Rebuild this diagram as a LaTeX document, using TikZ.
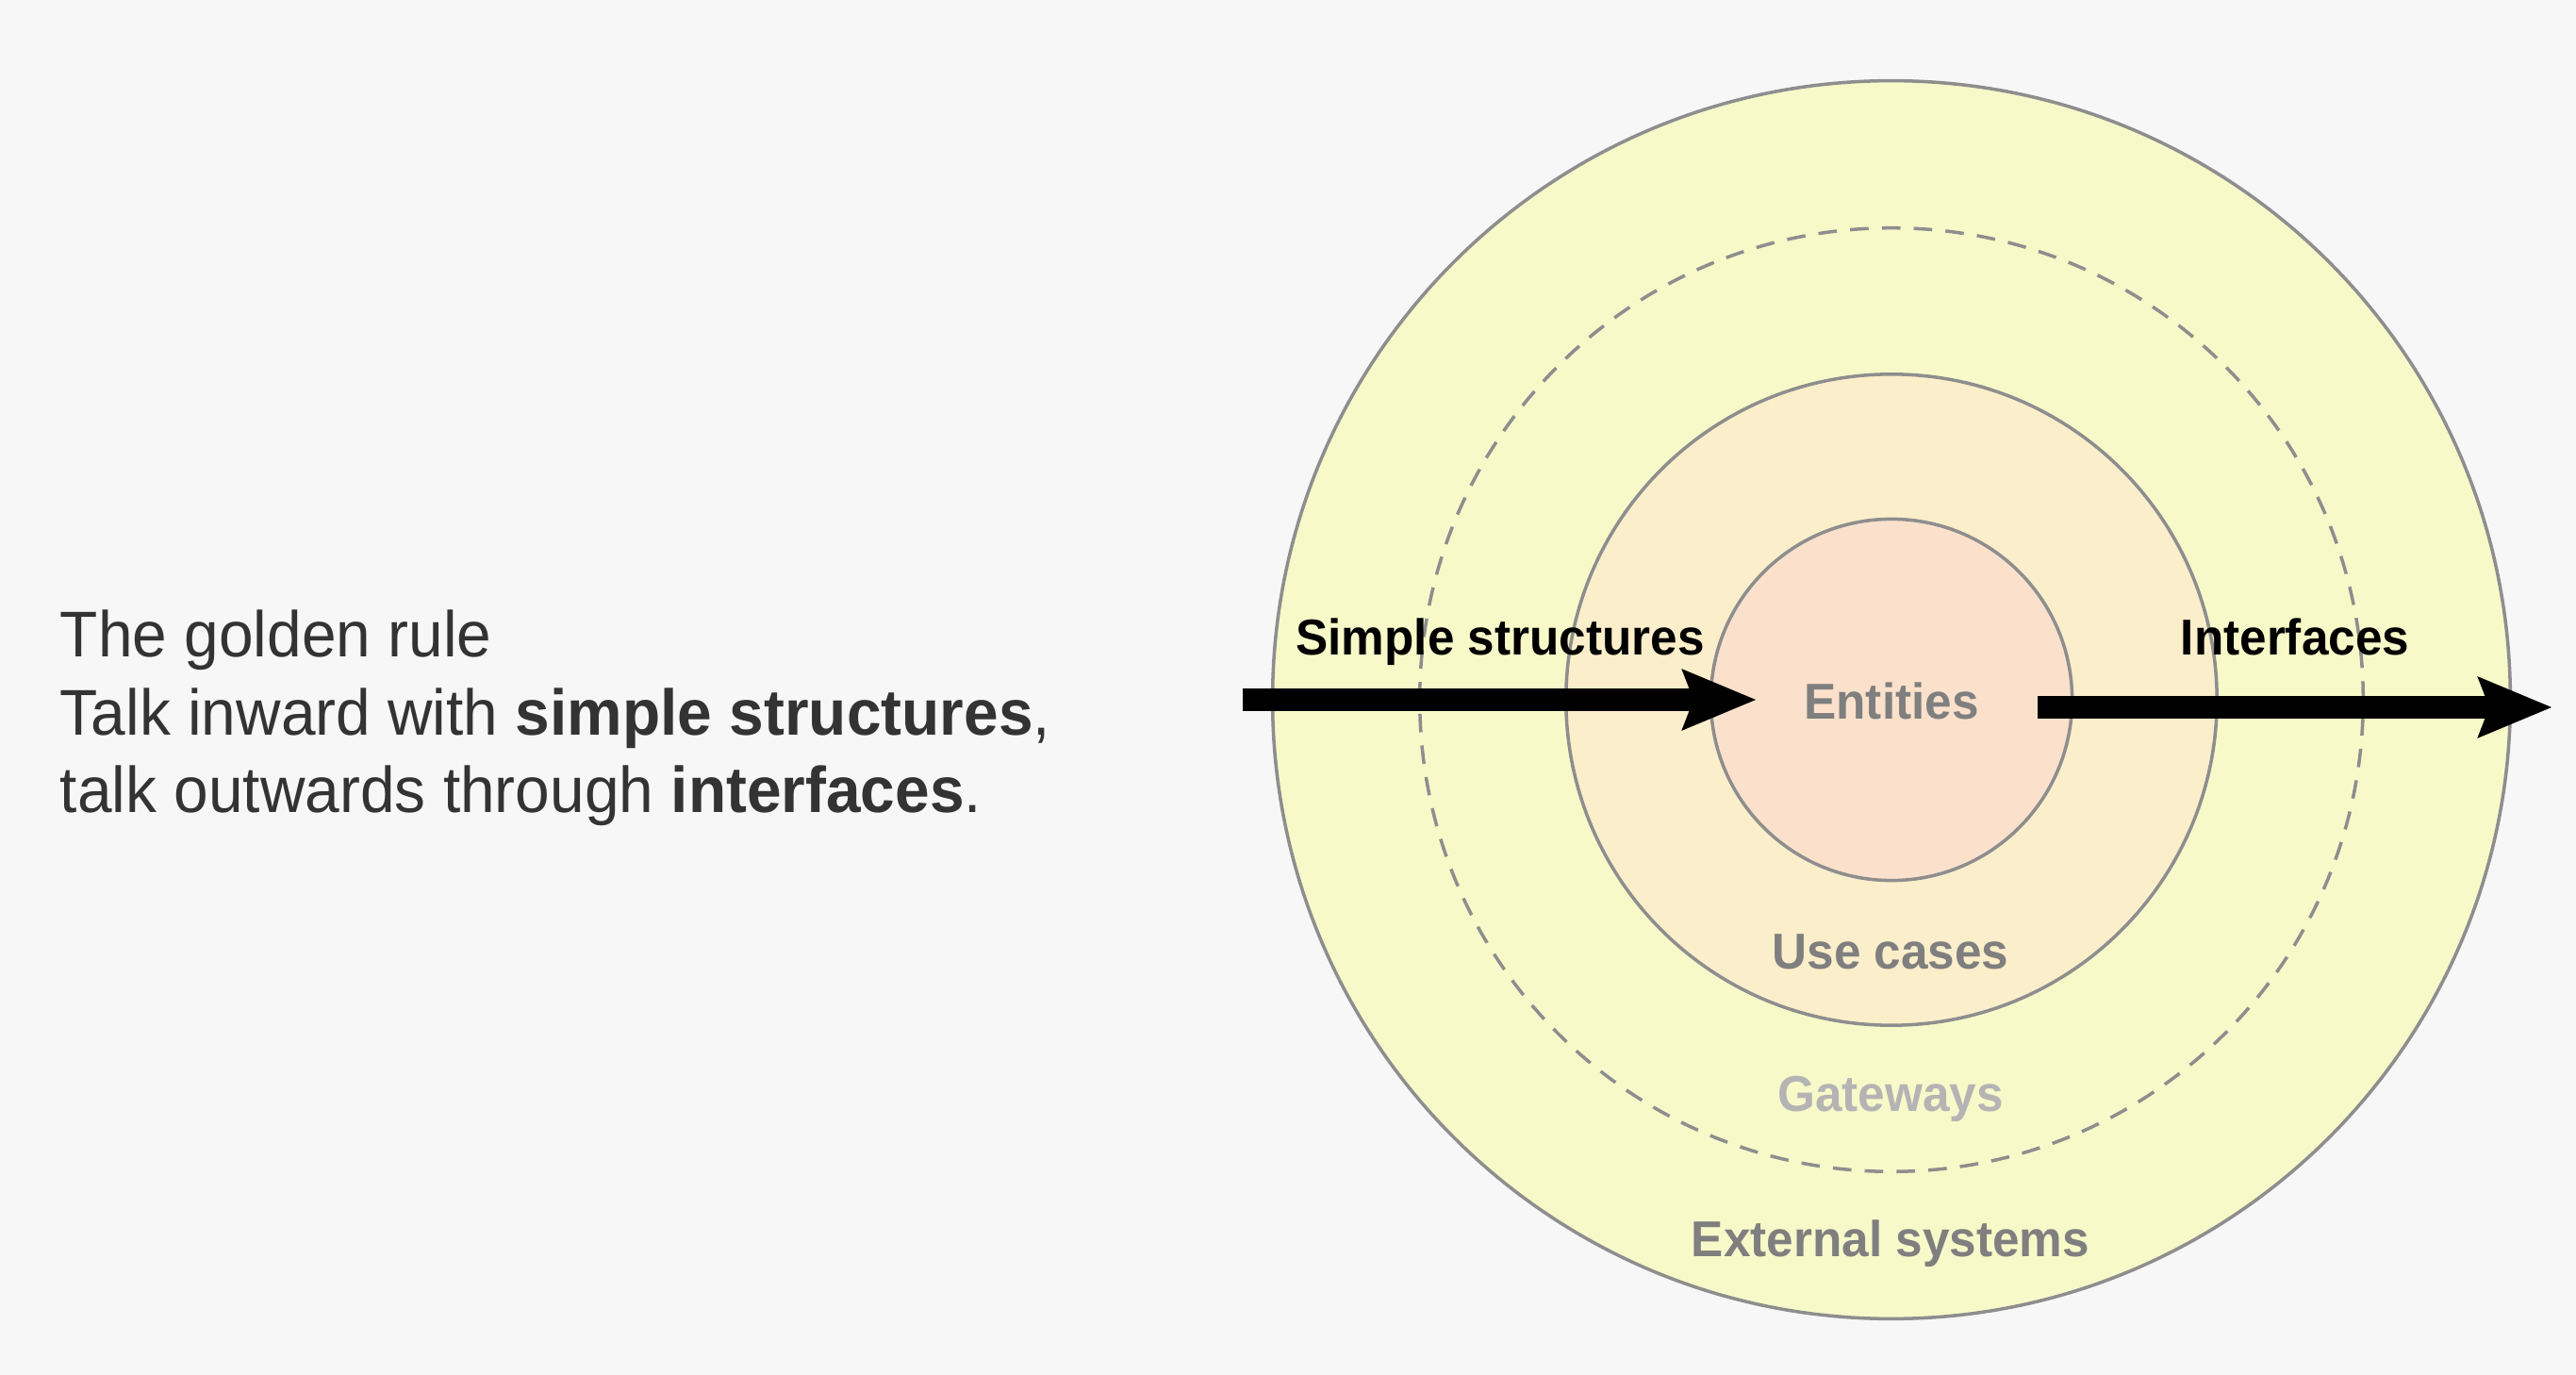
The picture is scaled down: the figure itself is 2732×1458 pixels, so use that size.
\documentclass[tikz,border=0pt]{standalone}
\usepackage{fontspec}
\setmainfont{Liberation Sans}[FakeStretch=0.96]
\usetikzlibrary{arrows.meta}
\usepackage{xcolor}

\definecolor{paper}{HTML}{F7F7F7}
\definecolor{rim}{HTML}{8E8E8E}
\definecolor{outerfill}{HTML}{F7F9C9}
\definecolor{midfill}{HTML}{FBEECA}
\definecolor{corefill}{HTML}{FBE1CB}
\definecolor{ink}{HTML}{333333}
\definecolor{dim}{HTML}{7F7F7F}
\definecolor{faint}{HTML}{B4B4B4}

\begin{document}
\begin{tikzpicture}[x=0.01cm,y=-0.01cm,
  every node/.style={inner sep=0pt,outer sep=0pt},%
  ring/.style={circle,draw=rim,line width=1pt},%
  note/.style={anchor=base west,text=ink,font=\fontsize{19.5}{23}\selectfont},%
  lbl/.style={anchor=base,font=\fontsize{15.2}{18}\selectfont\bfseries},%
  e/.style={-{Stealth[length=22pt,width=17.5pt,inset=3pt]},line width=6.8pt,black},%
  ]

  \fill [paper] (0,0) rectangle (2732,1458);

  % the rings, outside in
  \node (external) [ring,fill=outerfill,minimum size=13.12cm] at (2006,742) {};
  \node (gateway) [ring,dashed,dash pattern=on 5.6pt off 4pt,minimum size=10cm] at (2006,742) {};
  \node (usecase) [ring,fill=midfill,minimum size=6.9cm] at (2006,742) {};
  \node (entity) [ring,fill=corefill,minimum size=3.83cm] at (2006,742) {};

  % left hand text
  \node (rule) [note] at (64,697) {The golden rule};
  \node (inward) [note] at (64,779) {Talk inward with \textbf{simple structures},};
  \node (outward) [note] at (64,861) {talk outwards through \textbf{interfaces}.};

  % ring labels
  \node (entities) [lbl,text=dim] at (2006,763) {Entities};
  \node (usecases) [lbl,text=dim] at (2005,1027) {Use cases};
  \node (gateways) [lbl,text=faint] at (2005,1178) {Gateways};
  \node (externals) [lbl,text=dim] at (2005,1332) {External systems};
  \node (simple) [lbl] at (1591,695) {Simple structures};
  \node (interfaces) [lbl] at (2434,695) {Interfaces};

  \coordinate (inStart) at (1318,742);
  \coordinate (inEnd) at (1863,742);
  \coordinate (outStart) at (2161,750);
  \coordinate (outEnd) at (2707,750);

  \draw [e] (inStart) -- (inEnd);
  \draw [e] (outStart) -- (outEnd);
\end{tikzpicture}
\end{document}
